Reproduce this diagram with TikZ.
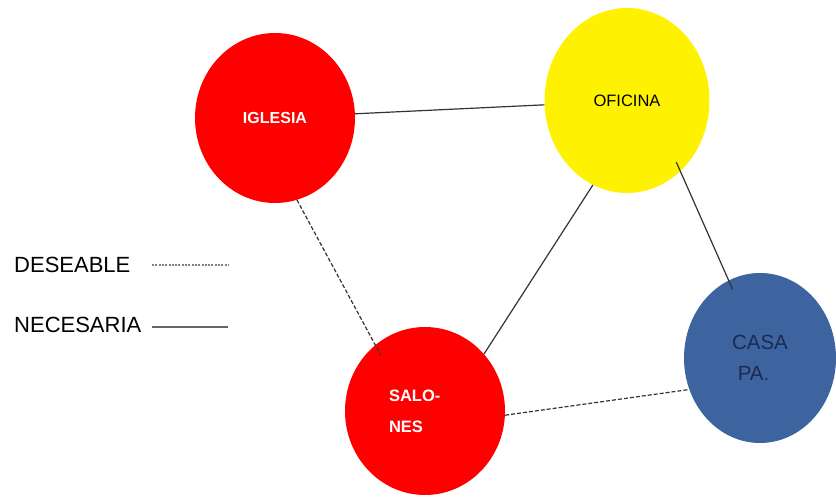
\documentclass[tikz,border=0pt]{standalone}
\usepackage{fontspec}
\setmainfont{Liberation Sans}
\usetikzlibrary{shapes.geometric}
\definecolor{casablue}{HTML}{3E64A0}
\definecolor{casatext}{HTML}{1A2A52}
\definecolor{linegray}{HTML}{333333}
\tikzset{
  place/.style={ellipse, draw=none, inner sep=0pt, align=left},
  solidlink/.style={draw=linegray, line width=1.2pt},
  dashlink/.style={draw=linegray, line width=1.2pt, dash pattern=on 4pt off 2pt},
  legendtext/.style={anchor=west, inner sep=0pt, font=\fontsize{22}{24}\selectfont},
}
\begin{document}
\begin{tikzpicture}[x=1pt,y=1pt]
\useasboundingbox (0,0) rectangle (836,-497);
% places
\node[place, fill=red, minimum width=160pt, minimum height=170pt,
      font=\bfseries\fontsize{16}{18}\selectfont, text=white] (igl) at (275,-118) {IGLESIA};
\node[place, fill=yellow, minimum width=165pt, minimum height=185pt,
      font=\fontsize{16.5}{18}\selectfont, text=black] (ofi) at (627,-100.5) {OFICINA};
\node[place, fill=red, minimum width=160pt, minimum height=168pt, text width=72pt,
      font=\bfseries\fontsize{16.5}{31}\selectfont, text=white] (sal) at (425,-411) {SALO-\\NES};
\node[place, fill=casablue, minimum width=152pt, minimum height=170pt,
      font=\fontsize{20.5}{31}\selectfont, text=casatext] (casa) at (760,-358) {CASA\\\ PA.};
% connectors
\draw[solidlink] (igl.3.6) -- (ofi.183);
\draw[dashlink, shorten >=-12pt] (igl.-75.5) -- (sal.127.5);
\draw[solidlink] (ofi.-112.7) -- (sal.44.5);
\draw[solidlink, shorten <=-10pt, shorten >=-10pt] (ofi.-53) -- (casa.112);
\draw[dashlink] (sal.-3) -- (casa.204);
% legend
\node[legendtext] (ldes) at (14,-265) {DESEABLE};
\node[legendtext] (lnec) at (14,-325) {NECESARIA};
\coordinate (d1) at (152,-265);
\coordinate (d2) at (228,-265);
\coordinate (n1) at (152,-327);
\coordinate (n2) at (228,-327);
\draw[draw=gray, line width=1.4pt, dash pattern=on 2pt off 1.3pt] (d1) -- (d2);
\draw[draw=gray!80!black, line width=1.5pt] (n1) -- (n2);
\end{tikzpicture}
\end{document}
